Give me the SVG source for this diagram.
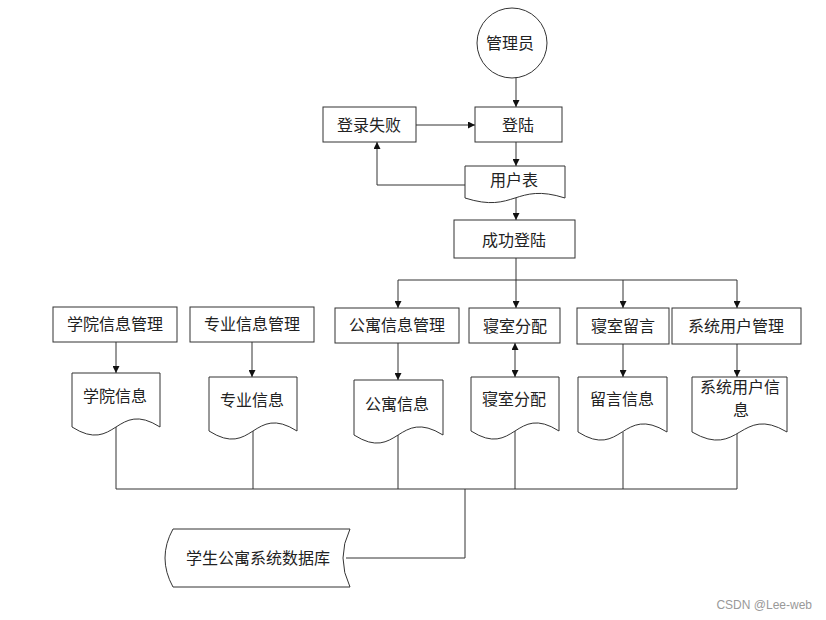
<svg xmlns="http://www.w3.org/2000/svg" width="826" height="620" viewBox="0 0 826 620">
<style>
.s{fill:#fff;stroke:#333;stroke-width:1}
.t{font-family:"Noto Sans CJK SC","Noto Sans",sans-serif;font-size:16px;fill:#222;text-anchor:middle}
.c{fill:none;stroke:#333;stroke-width:1}
.w{font-family:"Liberation Sans",Arial,sans-serif;font-size:12px;fill:#999;text-anchor:end}
</style>
<defs>
<marker id="ah" viewBox="0 0 10 10" refX="10" refY="5" markerWidth="8" markerHeight="7" orient="auto-start-reverse" markerUnits="userSpaceOnUse"><path d="M0,0 L10,5 L0,10 z" fill="#111"/></marker>
</defs>
<rect width="826" height="620" fill="#fff"/>
<g id="connectors">
<path class="c" d="M516,77 V107" marker-end="url(#ah)"/>
<path class="c" d="M416,125 H475" marker-end="url(#ah)"/>
<path class="c" d="M516,142 V166" marker-end="url(#ah)"/>
<path class="c" d="M465,185 H377 V142" marker-end="url(#ah)"/>
<path class="c" d="M516,198 V220" marker-end="url(#ah)"/>
<path class="c" d="M516,258 V308" marker-end="url(#ah)"/>
<path class="c" d="M398,280 H737"/>
<path class="c" d="M398,280 V308" marker-end="url(#ah)"/>
<path class="c" d="M623,280 V308" marker-end="url(#ah)"/>
<path class="c" d="M737,280 V308" marker-end="url(#ah)"/>
<path class="c" d="M116,342 V373" marker-end="url(#ah)"/>
<path class="c" d="M252,342 V377" marker-end="url(#ah)"/>
<path class="c" d="M398,343 V380" marker-end="url(#ah)"/>
<path class="c" d="M515,343 V377" marker-start="url(#ah)" marker-end="url(#ah)"/>
<path class="c" d="M623,344 V377" marker-end="url(#ah)"/>
<path class="c" d="M737,344 V377" marker-end="url(#ah)"/>
<path class="c" d="M116,427 V489 M253,431 V489 M398,435 V489 M515,431 V489 M623,432 V489 M737,433 V489"/>
<path class="c" d="M116,489 H737"/>
<path class="c" d="M465,489 V558 H346"/>
</g>
<g id="admin"><circle class="s" cx="512" cy="43" r="35"/><text class="t" x="510" y="49">管理员</text></g>
<g id="login"><rect class="s" x="475" y="107" width="87" height="35"/><text class="t" x="518" y="131">登陆</text></g>
<g id="loginfail"><rect class="s" x="323" y="107" width="93" height="35"/><text class="t" x="369" y="131">登录失败</text></g>
<g id="usertable"><path class="s" d="M465,166 H565 V198 C515,182 515,214 465,198 Z"/><text class="t" x="514" y="186">用户表</text></g>
<g id="success"><rect class="s" x="454" y="220" width="121" height="38"/><text class="t" x="514" y="246">成功登陆</text></g>
<g id="m1"><rect class="s" x="53" y="307" width="124" height="35"/><text class="t" x="115" y="330">学院信息管理</text></g>
<g id="m2"><rect class="s" x="190" y="307" width="124" height="35"/><text class="t" x="252" y="330">专业信息管理</text></g>
<g id="m3"><rect class="s" x="335" y="308" width="124" height="35"/><text class="t" x="397" y="331">公寓信息管理</text></g>
<g id="m4"><rect class="s" x="469" y="308" width="91" height="35"/><text class="t" x="515" y="332">寝室分配</text></g>
<g id="m5"><rect class="s" x="577" y="308" width="92" height="36"/><text class="t" x="623" y="332">寝室留言</text></g>
<g id="m6"><rect class="s" x="672" y="308" width="129" height="36"/><text class="t" x="736" y="332">系统用户管理</text></g>
<g id="d1"><path class="s" d="M72,373 H160 V427 C116,399 116,455 72,427 Z"/><text class="t" x="115" y="402">学院信息</text></g>
<g id="d2"><path class="s" d="M209,377 H297 V431 C253,403 253,459 209,431 Z"/><text class="t" x="252" y="406">专业信息</text></g>
<g id="d3"><path class="s" d="M354,380 H443 V435 C398,407 398,463 354,435 Z"/><text class="t" x="397" y="410">公寓信息</text></g>
<g id="d4"><path class="s" d="M471,377 H559 V431 C515,403 515,459 471,431 Z"/><text class="t" x="514" y="405">寝室分配</text></g>
<g id="d5"><path class="s" d="M578,377 H667 V432 C622,404 622,460 578,432 Z"/><text class="t" x="622" y="405">留言信息</text></g>
<g id="d6"><path class="s" d="M692,377 H787 V432 C740,404 740,460 692,432 Z"/><text class="t" x="740" y="393">系统用户信</text><text class="t" x="741" y="416">息</text></g>
<g id="db"><path class="s" d="M173,529 H350 Q336,558 350,587 H173 Q157,558 173,529 Z"/><text class="t" x="258" y="564">学生公寓系统数据库</text></g>
<text class="w" x="812" y="609">CSDN @Lee-web</text>
</svg>
